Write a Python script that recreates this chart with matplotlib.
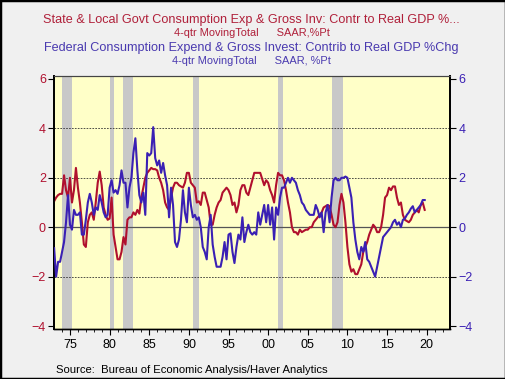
import numpy as np
import matplotlib
matplotlib.use("Agg")
import matplotlib.pyplot as plt
from matplotlib.ticker import MultipleLocator, FixedLocator

plt.rcParams['font.family'] = ['Liberation Sans', 'DejaVu Sans']

# quarterly values, 1973Q1 .. 2019Q4
state_local = [
    1.05, 1.2, 1.3, 1.35,   # 1973
    1.35, 2.1, 1.5, 1.2,    # 1974
    2.0, 1.0, 1.5, 2.4,     # 1975
    1.6, 1.0, 0.2, -0.7,    # 1976
    -0.8, 0.2, 0.5, 0.6,    # 1977
    0.3, 1.0, 1.8, 2.25,    # 1978
    1.7, 0.8, 0.5, 0.3,     # 1979
    0.35, 1.2, -0.3, -0.8,  # 1980
    -1.3, -1.3, -1.0, -0.4, # 1981
    -0.7, 0.3, 0.4, 0.4,    # 1982
    0.6, 0.5, 0.7, 0.55,    # 1983
    1.2, 1.6, 2.0, 2.2,     # 1984
    2.3, 2.4, 2.35, 2.35,   # 1985
    2.3, 2.0, 1.8, 1.5,     # 1986
    1.0, 0.8, 0.7, 1.2,     # 1987
    1.6, 1.8, 1.8, 1.7,     # 1988
    1.65, 1.6, 1.8, 2.2,    # 1989
    2.2, 1.8, 1.7, 1.6,     # 1990
    1.0, 1.05, 0.9, 1.4,    # 1991
    1.4, 1.1, 0.8, 0.1,     # 1992
    0.1, 0.5, 0.8, 1.0,     # 1993
    1.1, 1.4, 1.5, 1.6,     # 1994
    1.5, 1.3, 0.9, 1.0,     # 1995
    0.6, 0.9, 1.5, 1.7,     # 1996
    1.7, 1.4, 1.3, 1.6,     # 1997
    1.9, 2.2, 2.2, 2.2,     # 1998
    2.2, 1.95, 1.7, 1.9,    # 1999
    1.8, 1.5, 1.3, 1.0,     # 2000
    1.7, 2.2, 2.1, 2.1,     # 2001
    1.9, 1.5, 1.0, 0.6,     # 2002
    0.0, -0.2, -0.2, -0.3,  # 2003
    -0.1, -0.2, -0.15, -0.1,  # 2004
    -0.1, 0.0, 0.0, 0.2,    # 2005
    0.3, 0.4, 0.5, 0.6,     # 2006
    0.8, 0.85, 0.9, 0.85,   # 2007
    0.5, 0.1, 0.0, 0.2,     # 2008
    0.9, 1.35, 1.0, 0.2,    # 2009
    -0.8, -1.5, -1.8, -1.7, # 2010
    -1.9, -1.9, -1.7, -1.5, # 2011
    -1.0, -0.8, -0.6, -0.3, # 2012
    -0.1, 0.1, 0.0, -0.2,   # 2013
    -0.2, 0.0, 0.5, 1.2,    # 2014
    1.3, 1.6, 1.5, 1.65,    # 2015
    1.65, 1.2, 0.9, 1.0,    # 2016
    0.5, 0.3, 0.25, 0.2,    # 2017
    0.3, 0.5, 0.6, 0.7,     # 2018
    0.6, 0.9, 1.0, 0.7,     # 2019
]

federal = [
    -0.85, -2.0, -1.4, -1.4,  # 1973
    -1.0, -0.6, 0.2, 1.3,     # 1974
    0.1, -0.1, 0.7, 0.5,      # 1975
    0.5, 0.6, -0.3, -0.3,     # 1976
    0.3, 1.0, 1.35, 1.0,      # 1977
    0.5, 0.8, 0.7, 1.3,       # 1978
    1.0, 0.6, 0.4, 0.5,       # 1979
    1.6, 1.9, 1.4, 1.5,       # 1980
    1.35, 1.7, 2.3, 1.8,      # 1981
    1.8, 0.8, 1.6, 2.0,       # 1982
    3.0, 3.6, 2.3, 1.3,       # 1983
    1.0, 1.4, 0.5, 3.0,       # 1984
    2.9, 3.0, 4.05, 2.8,      # 1985
    2.5, 2.7, 2.2, 2.6,       # 1986
    2.1, 1.7, 0.4, 1.6,       # 1987
    0.9, -0.6, -0.8, -0.5,    # 1988
    0.3, 1.5, 0.6, 0.2,       # 1989
    1.6, 0.9, 0.4, 0.5,       # 1990
    0.3, 0.4, 0.0, -0.8,      # 1991
    -1.0, -1.3, 0.0, 0.5,     # 1992
    -0.7, -1.2, -1.6, -1.6,   # 1993
    -1.6, -1.2, -0.6, -1.3,   # 1994
    -0.3, -0.25, -1.0, -1.45, # 1995
    -0.8, -0.3, -0.5, 0.4,    # 1996
    -0.6, -0.2, 0.1, -0.2,    # 1997
    -0.3, -0.2, -0.3, 0.6,    # 1998
    0.1, 0.5, 0.9, 0.2,       # 1999
    0.9, 0.1, 0.8, -0.5,      # 2000
    0.8, 0.5, 1.2, 1.6,       # 2001
    1.6, 1.8, 2.0, 1.8,       # 2002
    2.0, 1.9, 1.8, 1.5,       # 2003
    1.3, 1.0, 0.9, 0.7,       # 2004
    0.6, 0.5, 0.5, 0.5,       # 2005
    0.9, 0.7, 0.4, 0.6,       # 2006
    -0.2, 0.6, 0.9, 0.2,      # 2007
    1.2, 1.9, 2.0, 1.9,       # 2008
    1.9, 2.0, 2.0, 2.05,      # 2009
    2.0, 1.6, 1.2, 0.2,       # 2010
    -0.5, -1.0, -1.3, -0.8,   # 2011
    -1.0, -0.6, -1.3, -1.4,   # 2012
    -1.6, -1.8, -2.0, -1.6,   # 2013
    -1.2, -0.8, -0.4, -0.3,   # 2014
    -0.2, -0.1, 0.0, 0.2,     # 2015
    0.3, 0.1, 0.2, 0.0,       # 2016
    0.3, 0.35, 0.5, 0.6,      # 2017
    0.75, 0.85, 0.6, 0.7,     # 2018
    0.8, 0.9, 1.1, 1.1,       # 2019
]

recessions = [(1974.0, 1975.2), (1980.05, 1980.55), (1981.65, 1982.9),
              (1990.55, 1991.25), (2001.25, 2001.9), (2008.0, 2009.47)]

year_ticks = [1975, 1980, 1985, 1990, 1995, 2000, 2005, 2010, 2015, 2020]
year_labels = ["75", "80", "85", "90", "95", "00", "05", "10", "15", "20"]
y_ticks = [-4, -2, 0, 2, 4, 6]

red = "#b0102e"
blue = "#3a20b4"

quarters = 1973 + np.arange(len(state_local)) / 4.0

fig = plt.figure(figsize=(5.06, 3.79), dpi=100, facecolor="#f0f0f0")
fig.patches.append(plt.Rectangle((0, 0), 1, 1, transform=fig.transFigure,
                                 fill=False, edgecolor="black", linewidth=2.5))
ax = fig.add_axes([0.1073, 0.1319, 0.782, 0.6676])
ax.set_facecolor("#ffffc8")

for a, b in recessions:
    ax.axvspan(a, b, color="#c8c8c8", lw=0, zorder=1)

for y in [-2, 2, 4]:
    ax.axhline(y, color="#333333", lw=0.6, ls=(0, (2, 1.5)), zorder=2)
ax.axhline(0, color="#555555", lw=0.9, zorder=2)

ax.plot(quarters, state_local, color=red, lw=1.5, zorder=3)
ax2 = ax.twinx()
ax2.plot(quarters, federal, color=blue, lw=1.5, zorder=3)

for a in (ax, ax2):
    a.set_xlim(1973.02, 2022.94)
    a.set_ylim(-4.12, 6.12)
    a.yaxis.set_major_locator(FixedLocator(y_ticks))

ax.set_xticks(year_ticks)
ax.set_xticklabels(year_labels)
ax.xaxis.set_minor_locator(MultipleLocator(1))
ax.tick_params(axis="x", which="major", length=4, width=0.8, labelsize=9, pad=3)
ax.tick_params(axis="x", which="minor", length=2.5, width=0.6)
ax.tick_params(axis="y", length=4, width=0.8, labelsize=9, labelcolor=red, pad=2)
ax2.tick_params(axis="y", length=4, width=0.8, labelsize=9, labelcolor=blue, pad=2)

for a in (ax, ax2):
    a.spines["left"].set_linewidth(1.3)
    a.spines["right"].set_linewidth(1.3)
    a.spines["bottom"].set_linewidth(1.0)
    a.spines["top"].set_linewidth(0.8)
    a.spines["top"].set_color("#444444")

fig.text(0.497, 1 - 20 / 379, "State & Local Govt Consumption Exp & Gross Inv: Contr to Real GDP %...",
         color="#b0203a", fontsize=9.1, ha="center", va="center")
fig.text(0.497, 1 - 32.5 / 379, "4-qtr MovingTotal      SAAR,%Pt",
         color="#b0203a", fontsize=7.9, ha="center", va="center")
fig.text(0.497, 1 - 48 / 379, "Federal Consumption Expend & Gross Invest: Contrib to Real GDP %Chg",
         color="#4a3ab0", fontsize=9.1, ha="center", va="center")
fig.text(0.497, 1 - 61 / 379, "4-qtr MovingTotal      SAAR, %Pt",
         color="#4a3ab0", fontsize=7.9, ha="center", va="center")
fig.text(56 / 506, 1 - 370 / 379, "Source:  Bureau of Economic Analysis/Haver Analytics",
         color="black", fontsize=8.1, ha="left", va="center")

fig.savefig("out.png", dpi=100, facecolor=fig.get_facecolor())
